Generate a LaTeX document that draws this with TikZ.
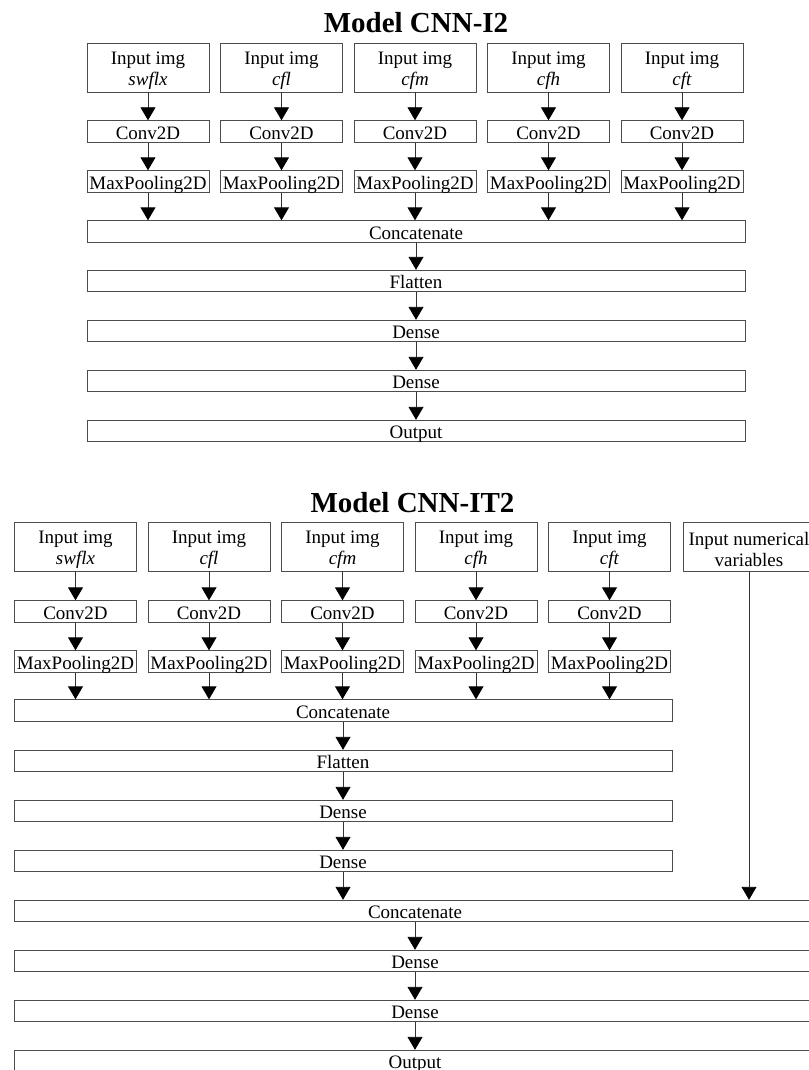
\documentclass[tikz,border=0pt]{standalone}
\usepackage{fontspec}
\setmainfont{Liberation Serif}
\usetikzlibrary{arrows.meta, positioning}

\tikzset{
  layer/.style={draw=black!70, line width=0.9pt, minimum height=21.5pt, inner sep=0pt,
    text height=17.5pt, text depth=2pt, font=\fontsize{19}{21}\selectfont},
  inbox/.style={draw=black!70, line width=0.9pt, inner sep=0pt, minimum width=122pt,
    minimum height=49pt, align=center, font=\fontsize{19}{21}\selectfont},
  smallbox/.style={layer, minimum width=122pt},
  flow/.style={-{Triangle[width=15pt,length=13pt,black]}, draw=black!80, line width=0.9pt},
  modeltitle/.style={font=\fontsize{29}{32}\selectfont\bfseries, anchor=base},
}
\newcommand{\tallrule}{\rule{0pt}{19pt}}

\begin{document}
\begin{tikzpicture}[x=1pt, y=-1pt]
  \useasboundingbox (0,0) rectangle (808,1070);

  % Model CNN-I2
  \node[modeltitle] (titleA) at (416,33) {Model CNN-I2};
  \node[layer, minimum width=658pt] (catA) at (416,231.5) {Concatenate};
  \foreach \i/\lbl in {1/swflx,2/cfl,3/cfm,4/cfh,5/cft} {
    \node[inbox] (inA\i) at ({148+133.5*(\i-1)},67.5) {\tallrule Input img\\\textit{\lbl}};
    \node[smallbox] (convA\i) at ({148+133.5*(\i-1)},131.5) {Conv2D};
    \node[smallbox] (poolA\i) at ({148+133.5*(\i-1)},181.5) {MaxPooling2D};
    \draw[flow] (inA\i) -- (convA\i);
    \draw[flow] (convA\i) -- (poolA\i);
    \draw[flow] (poolA\i) -- (poolA\i |- catA.north);
  }
  \node[layer, minimum width=658pt] (flatA) at (416,281) {Flatten};
  \node[layer, minimum width=658pt] (denseA1) at (416,331) {Dense};
  \node[layer, minimum width=658pt] (denseA2) at (416,381) {Dense};
  \node[layer, minimum width=658pt] (outA) at (416,431) {Output};
  \draw[flow] (catA) -- (flatA);
  \draw[flow] (flatA) -- (denseA1);
  \draw[flow] (denseA1) -- (denseA2);
  \draw[flow] (denseA2) -- (outA);

  % Model CNN-IT2
  \node[modeltitle] (titleB) at (412.5,512) {Model CNN-IT2};
  \node[layer, minimum width=658pt] (catB1) at (343,710.5) {Concatenate};
  \foreach \i/\lbl in {1/swflx,2/cfl,3/cfm,4/cfh,5/cft} {
    \node[inbox] (inB\i) at ({75.5+133.5*(\i-1)},546.5) {\tallrule Input img\\\textit{\lbl}};
    \node[smallbox] (convB\i) at ({75.5+133.5*(\i-1)},611.5) {Conv2D};
    \node[smallbox] (poolB\i) at ({75.5+133.5*(\i-1)},661.5) {MaxPooling2D};
    \draw[flow] (inB\i) -- (convB\i);
    \draw[flow] (convB\i) -- (poolB\i);
    \draw[flow] (poolB\i) -- (poolB\i |- catB1.north);
  }
  \node[inbox, minimum width=132pt] (inBnum) at (749,546.5) {\tallrule Input numerical\\variables};
  \node[layer, minimum width=658pt] (flatB) at (343,761) {Flatten};
  \node[layer, minimum width=658pt] (denseB1) at (343,811) {Dense};
  \node[layer, minimum width=658pt] (denseB2) at (343,861) {Dense};
  \node[layer, minimum width=802pt] (catB2) at (415,911) {Concatenate};
  \node[layer, minimum width=802pt] (denseB3) at (415,961) {Dense};
  \node[layer, minimum width=802pt] (denseB4) at (415,1011) {Dense};
  \node[layer, minimum width=802pt] (outB) at (415,1061) {Output};
  \draw[flow] (catB1) -- (flatB);
  \draw[flow] (flatB) -- (denseB1);
  \draw[flow] (denseB1) -- (denseB2);
  \draw[flow] (denseB2) -- (denseB2 |- catB2.north);
  \draw[flow] (inBnum) -- (inBnum |- catB2.north);
  \draw[flow] (catB2) -- (denseB3);
  \draw[flow] (denseB3) -- (denseB4);
  \draw[flow] (denseB4) -- (outB);
\end{tikzpicture}
\end{document}
